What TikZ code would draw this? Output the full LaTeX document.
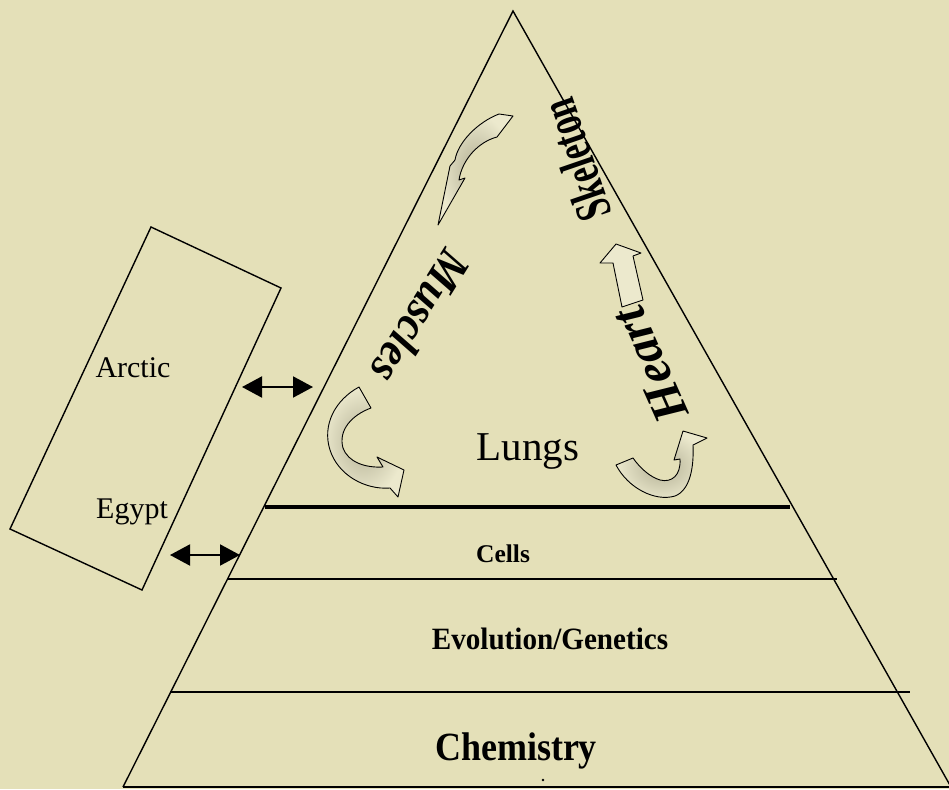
\documentclass[tikz,border=0pt]{standalone}
\usepackage{fontspec}
\setmainfont{Liberation Serif}
\usetikzlibrary{arrows.meta}
\definecolor{bg}{RGB}{228,224,184}
\definecolor{shadec}{RGB}{178,175,148}
\newcommand{\myfs}[1]{\fontsize{#1}{#1}\selectfont}
\begin{document}
\begin{tikzpicture}[x=1pt,y=-1pt,
  edge/.style={line width=1.4pt},
  blockarrow/.style={draw, line width=0.9pt, line join=round, inner color=shadec, outer color=bg!70!white},
  plainarrow/.style={draw, line width=0.9pt, line join=round, fill=bg!70!white},
  dbl/.style={line width=2pt, {Triangle[length=20pt,width=21pt]}-{Triangle[length=20pt,width=21pt]}},
  lbl/.style={inner sep=0pt, anchor=base}]
\fill[bg] (0,0) rectangle (949,789);
\useasboundingbox (0,0) rectangle (949,789);

% pyramid
\coordinate (apex) at (513,11);
\coordinate (bl) at (123,787);
\coordinate (br) at (951,787);
\draw[edge, line join=miter] (bl) -- (apex) -- (br);
\draw[line width=1.8pt] (bl) -- (br);

% layer lines
\coordinate (t1) at (265,507); \coordinate (t2) at (790,507);
\coordinate (c1) at (228,579); \coordinate (c2) at (837,579);
\coordinate (e1) at (170,692); \coordinate (e2) at (910,692);
\draw[line width=4.5pt] (t1) -- (t2);
\draw[line width=1.4pt] (c1) -- (c2);
\draw[line width=1.4pt] (e1) -- (e2);

% tilted box
\coordinate (r1) at (151,227);
\coordinate (r2) at (281,288);
\coordinate (r3) at (142,590);
\coordinate (r4) at (10,529);
\draw[edge, line join=miter] (r1) -- (r2) -- (r3) -- (r4) -- cycle;
\node[lbl, font=\myfs{30}] (arctic) at (133,377) {Arctic};
\node[lbl, font=\myfs{30}] (egypt) at (132,518) {Egypt};

% double arrows
\coordinate (a1) at (242,387); \coordinate (a2) at (313,387);
\coordinate (b1) at (170,555); \coordinate (b2) at (240,555);
\draw[dbl] (a1) -- (a2);
\draw[dbl] (b1) -- (b2);

% layer labels
\node[lbl, font=\myfs{41}] (lungs) at (528,460) {Lungs};
\node[lbl, font=\bfseries\myfs{25.5}] (cells) at (503,562) {Cells};
\node[lbl, font=\bfseries\myfs{31}, xscale=0.94] (evo) at (550,649) {Evolution/Genetics};
\node[lbl, font=\bfseries\myfs{40}, xscale=0.9] (chem) at (516,760) {Chemistry};
\fill (543,780) circle (1.3);

% rotated organ labels
\node[inner sep=0pt, font=\bfseries\itshape\myfs{43}, rotate=238, yscale=1.1] (muscles) at (421,317) {Muscles};
\node[inner sep=0pt, font=\bfseries\itshape\myfs{50}, rotate=114] (heart) at (650,365) {Heart};
\node[inner sep=0pt, font=\bfseries\myfs{34}, rotate=109, yscale=1.5] (skeleton) at (576,160) {Skeleton};

% block arrows
\path[blockarrow] (513,116) -- (499,114) .. controls (478,122) and (458,142) .. (455,160)
  -- (450,166) -- (438,225) -- (465,178) -- (459,180)
  .. controls (462,160) and (478,142) .. (497,137) -- cycle;
\path[blockarrow] (359,387) .. controls (335,400) and (322,425) .. (330,450)
  .. controls (338,475) and (365,490) .. (390,488)
  -- (398,497) -- (404,470) -- (377,457) -- (383,467)
  .. controls (365,468) and (348,462) .. (343,448)
  .. controls (338,430) and (352,415) .. (371,408) -- cycle;
\path[blockarrow] (616,465) .. controls (628,488) and (655,502) .. (675,496)
  .. controls (690,490) and (694,468) .. (693,445)
  -- (707,438) -- (683,431) -- (674,460) -- (680,459)
  .. controls (681,475) and (672,483) .. (660,480)
  .. controls (650,477) and (640,468) .. (633,458) -- cycle;
\path[plainarrow] (616,244) -- (641,253) -- (633,256) -- (643,300) -- (622,307) -- (613,263) -- (600,263) -- cycle;
\end{tikzpicture}
\end{document}
